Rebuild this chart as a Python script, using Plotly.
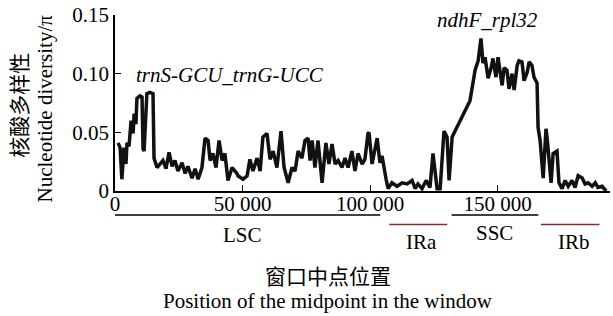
import plotly.graph_objects as go

# Sliding-window position (bp) and nucleotide diversity (Pi)
position = [
    1200, 2000, 2700, 3500, 4300, 4700, 5500, 6300, 7100, 7500, 8200, 8600, 9800, 10600,
    11000, 11400, 12500, 13700, 14900, 15300, 16500, 17600, 18800, 20000, 21200, 22400,
    23500, 24700, 26300, 27500, 28600, 30200, 31400, 32600, 34100, 35300, 36500, 37300,
    38400, 39600, 40800, 42000, 43100, 44300, 45900, 47800, 48200, 50200, 51800, 52900,
    54100, 55700, 56900, 58000, 59600, 60800, 62000, 63500, 65100, 66300, 67900, 69400,
    70600, 71800, 73300, 74500, 75700, 76500, 77300, 78400, 79600, 81200, 82700, 83900,
    85100, 86300, 87500, 89000, 90200, 91400, 92900, 94100, 95300, 96900, 98000, 99200,
    99600, 100800, 102800, 103900, 104700, 106300, 107100, 108600, 110600, 112600, 114500,
    116500, 117700, 118800, 120400, 122000, 123500, 124700, 126300, 127500, 129000, 130200,
    131000, 132200, 139200, 141200, 142400, 143500, 144300, 145100, 146300, 147500, 148200,
    149400, 150200, 151800, 152600, 153700, 154500, 155700, 156500, 157700, 158400, 159600,
    160400, 161600, 162400, 163500, 164300, 165500, 165900, 166700, 167500, 167900, 169000,
    169400, 171000, 171800, 173300, 174100, 175300, 176500, 177700, 179200, 180400, 181600,
    183200, 184300, 185500, 187100, 188300, 189400, 191000, 192600,
]
pi_values = [
    0.041, 0.037, 0.010, 0.037, 0.023, 0.041, 0.038, 0.060, 0.049, 0.066, 0.057, 0.079, 0.081, 0.080,
    0.036, 0.034, 0.083, 0.084, 0.083, 0.028, 0.020, 0.023, 0.026, 0.019, 0.033, 0.021,
    0.026, 0.017, 0.024, 0.015, 0.021, 0.011, 0.019, 0.010, 0.020, 0.045, 0.043, 0.026,
    0.032, 0.020, 0.043, 0.026, 0.032, 0.009, 0.020, 0.015, 0.013, 0.010, 0.013, 0.027,
    0.017, 0.028, 0.017, 0.046, 0.049, 0.027, 0.034, 0.020, 0.051, 0.020, 0.007, 0.020,
    0.017, 0.034, 0.028, 0.043, 0.045, 0.026, 0.043, 0.020, 0.043, 0.007, 0.041, 0.023,
    0.040, 0.023, 0.026, 0.020, 0.028, 0.020, 0.034, 0.017, 0.032, 0.023, 0.027, 0.049,
    0.050, 0.023, 0.045, 0.024, 0.030, 0.010, 0.002, 0.007, 0.004, 0.007, 0.006,
    0.009, 0.002, 0.006, 0.002, 0.009, 0.003, 0.032, 0.002, 0.002, 0.051, 0.046,
    0.009, 0.046, 0.077, 0.103, 0.111, 0.130, 0.109, 0.114, 0.096, 0.105, 0.113,
    0.097, 0.114, 0.090, 0.105, 0.103, 0.087, 0.100, 0.086, 0.107, 0.111, 0.110,
    0.094, 0.101, 0.110, 0.107, 0.097, 0.092, 0.054, 0.043, 0.017, 0.011, 0.053,
    0.046, 0.007, 0.032, 0.034, 0.007, 0.002, 0.009, 0.004, 0.009, 0.003, 0.013,
    0.011, 0.006, 0.007, 0.004, 0.007, 0.003, 0.004, 0.000,
]

x_tick_vals = [0, 50000, 100000, 150000]
x_tick_text = ["0", "50 000", "100 000", "150 000"]
y_tick_vals = [0, 0.05, 0.10, 0.15]
y_tick_text = ["0", "0.05", "0.10", "0.15"]

# Genome regions (bp) shown below the axis
region_names = ["LSC", "IRa", "SSC", "IRb"]
region_start = [0, 107500, 132000, 167000]
region_end = [104000, 130300, 166000, 190000]
region_label_x = [50000, 120000, 149000, 180000]
region_colors = ["#000000", "#8B2A2A", "#000000", "#8B2A2A"]
region_line_y = [-0.136, -0.19, -0.136, -0.19]
region_label_y = [-0.25, -0.29, -0.24, -0.29]

# Peak annotations
peak_labels = ["trnS-GCU_trnG-UCC", "ndhF_rpl32"]
peak_x = [45000, 146000]
peak_y = [0.099, 0.1455]

FONT = "Liberation Serif, Times New Roman, serif"
CJK = "Liberation Serif, Noto Sans CJK SC, serif"
FS = 21

fig = go.Figure()
fig.add_trace(go.Scatter(
    x=position, y=pi_values, mode="lines",
    line=dict(color="#111111", width=3.5),
    showlegend=False, hoverinfo="skip",
))

shapes = []
annotations = []
for name, s, e, lx, c, ly, ty in zip(region_names, region_start, region_end,
                                      region_label_x, region_colors,
                                      region_line_y, region_label_y):
    shapes.append(dict(type="line", xref="x", yref="paper", x0=s, x1=e, y0=ly, y1=ly,
                       line=dict(color=c, width=1.5)))
    annotations.append(dict(text=name, x=lx, y=ty, xref="x", yref="paper",
                            showarrow=False, font=dict(family=FONT, size=FS, color="#000"),
                            xanchor="center", yanchor="middle"))

for t, px, py in zip(peak_labels, peak_x, peak_y):
    annotations.append(dict(text="<i>" + t + "</i>", x=px, y=py, xref="x", yref="y",
                            showarrow=False, font=dict(family=FONT, size=FS, color="#000"),
                            xanchor="center", yanchor="middle"))

annotations += [
    dict(text="核酸多样性", x=-0.192, y=0.49, xref="paper", yref="paper", textangle=-90,
         showarrow=False, font=dict(family=CJK, size=FS, color="#000"),
         xanchor="center", yanchor="middle"),
    dict(text="Nucleotide diversity/π", x=-0.141, y=0.47, xref="paper", yref="paper",
         textangle=-90, showarrow=False, font=dict(family=FONT, size=FS, color="#000"),
         xanchor="center", yanchor="middle"),
    dict(text="窗口中点位置", x=0.43, y=-0.489, xref="paper", yref="paper",
         showarrow=False, font=dict(family=CJK, size=FS, color="#000"),
         xanchor="center", yanchor="middle"),
    dict(text="Position of the midpoint in the window", x=0.43, y=-0.625, xref="paper",
         yref="paper", showarrow=False, font=dict(family=FONT, size=FS, color="#000"),
         xanchor="center", yanchor="middle"),
]

fig.update_layout(
    width=613, height=316,
    margin=dict(l=115, r=3, t=15, b=125),
    paper_bgcolor="white", plot_bgcolor="white",
    shapes=shapes, annotations=annotations,
    xaxis=dict(range=[0, 194100], tickvals=x_tick_vals, ticktext=x_tick_text,
               ticks="inside", ticklen=6, tickcolor="#000", showline=True,
               linecolor="#000", linewidth=1.5, showgrid=False, zeroline=False,
               automargin=False, ticklabelstandoff=-7,
               tickfont=dict(family=FONT, size=FS, color="#000")),
    yaxis=dict(range=[0, 0.15], tickvals=y_tick_vals, ticktext=y_tick_text,
               ticks="inside", ticklen=6, tickcolor="#000", showline=True,
               linecolor="#000", linewidth=1.5, showgrid=False, zeroline=False,
               automargin=False,
               tickfont=dict(family=FONT, size=FS, color="#000")),
)

fig.write_html("out.html", config={"displayModeBar": False},
               post_script="document.body.style.margin='0';document.body.style.overflow='hidden';")
